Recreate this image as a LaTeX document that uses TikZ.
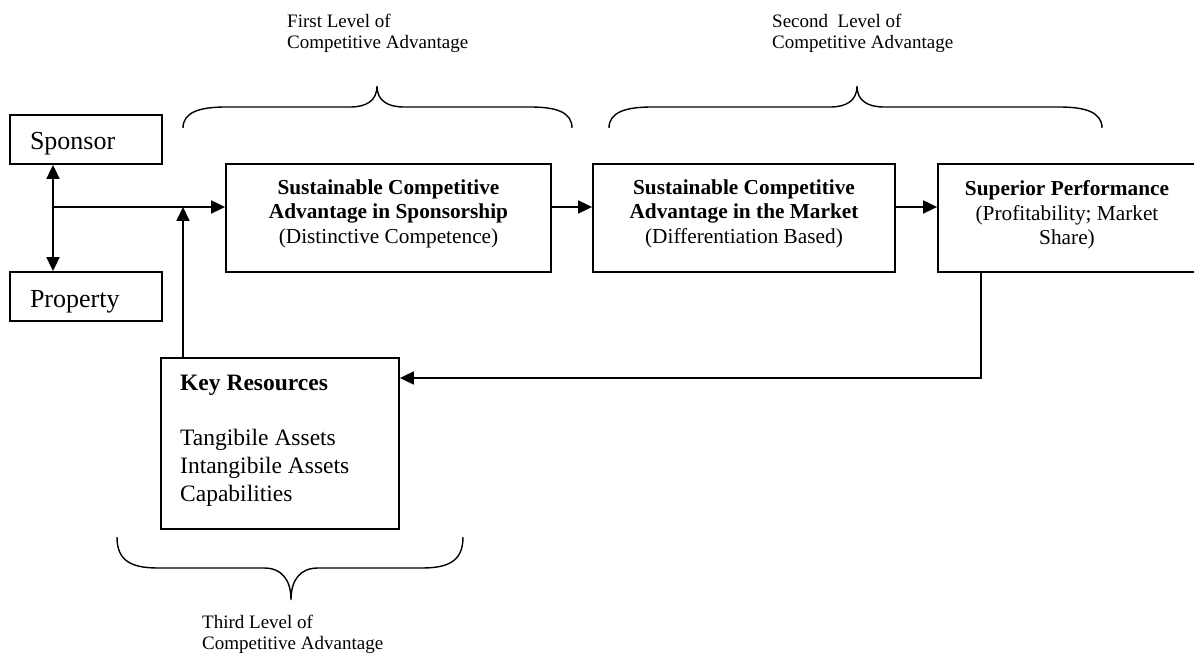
\documentclass[tikz,border=0pt]{standalone}
\usepackage{fontspec}
\setmainfont{Liberation Serif}
\usetikzlibrary{arrows.meta}
\begin{document}
\begin{tikzpicture}[x=1pt,y=-1pt,
  frame/.style={draw, rectangle, line width=1.8pt, inner sep=0pt},
  link/.style={line width=1.8pt, -{Triangle[length=14pt,width=13pt]}},
  brace/.style={line width=1.4pt},
  boxtext/.style={anchor=north, align=center, inner sep=0pt,
    font=\fontsize{21.3}{24.5}\selectfont},
  lbl/.style={anchor=north west, align=left, inner sep=0pt,
    font=\fontsize{19}{21}\selectfont},
  side/.style={frame, minimum width=152pt, minimum height=49pt,
    text width=132pt, align=left, text height=26pt, text depth=5pt,
    font=\fontsize{26}{30}\selectfont}
]
\clip (0,0) rectangle (1194,655);

% sponsor and property
\node[side] (sp) at (86,139.5) {\hspace*{10pt}Sponsor};
\node[side] (pr) at (86,296.5) {\hspace*{10pt}Property};

% main chain of boxes
\node[frame, minimum width=325pt, minimum height=108pt] (b1) at (388.5,218) {};
\node[frame, minimum width=302pt, minimum height=108pt] (b2) at (744,218) {};
\node[frame, minimum width=258pt, minimum height=108pt] (b3) at (1067,218) {};
\node[frame, minimum width=238pt, minimum height=171pt] (kr) at (280,443.5) {};

\node[boxtext] (t1) at (388.5,179.5) {\textbf{Sustainable Competitive}\\\textbf{Advantage in Sponsorship}\\(Distinctive Competence)};
\node[boxtext] (t2) at (744,179.5) {\textbf{Sustainable Competitive}\\\textbf{Advantage in the Market}\\(Differentiation Based)};
\node[boxtext] (t3) at (1067,180.5) {\textbf{Superior Performance}\\(Profitability; Market\\Share)};
\node[anchor=north west, align=left, inner sep=0pt,
  font=\fontsize{23.5}{28}\selectfont] (krt) at (180,374.5)
  {\textbf{Key Resources}\\[27pt]Tangibile Assets\\Intangibile Assets\\Capabilities};

% level labels
\node[lbl] (l1) at (287,14) {First Level of\\Competitive Advantage};
\node[lbl] (l2) at (772,14) {Second\ \ Level of\\Competitive Advantage};
\node[lbl] (l3) at (202,615) {Third Level of\\Competitive Advantage};

% connectors
\coordinate (j) at (53,207);
\coordinate (k) at (183,207);
\coordinate (f) at (981,378);
\draw[line width=1.8pt, {Triangle[length=14pt,width=13pt]}-{Triangle[length=14pt,width=13pt]}]
  (sp.south -| j) -- (pr.north -| j);
\draw[link] (j) -- (j -| b1.west);
\draw[link] (kr.north -| k) -- (k);
\draw[link] (b1.east |- j) -- (b2.west |- j);
\draw[link] (b2.east |- j) -- (b3.west |- j);
\draw[link] (b3.south -| f) -- (f) -- (f -| kr.east);

% braces
\draw[brace] (183,128) .. controls (183,112) and (200,107) .. (226,107) -- (350,107)
  .. controls (366,107) and (377,101) .. (377,86)
  .. controls (377,101) and (388,107) .. (404,107) -- (530,107)
  .. controls (556,107) and (572,112) .. (572,128);
\draw[brace] (609,128) .. controls (609,112) and (626,107) .. (652,107) -- (830,107)
  .. controls (846,107) and (857,101) .. (857,86)
  .. controls (857,101) and (868,107) .. (884,107) -- (1059,107)
  .. controls (1085,107) and (1102,112) .. (1102,128);
\draw[brace] (117,537) .. controls (117,560) and (130,568) .. (158,568) -- (264,568)
  .. controls (282,568) and (291,580) .. (291,600)
  .. controls (291,580) and (300,568) .. (318,568) -- (422,568)
  .. controls (450,568) and (463,560) .. (463,537);
\end{tikzpicture}
\end{document}
